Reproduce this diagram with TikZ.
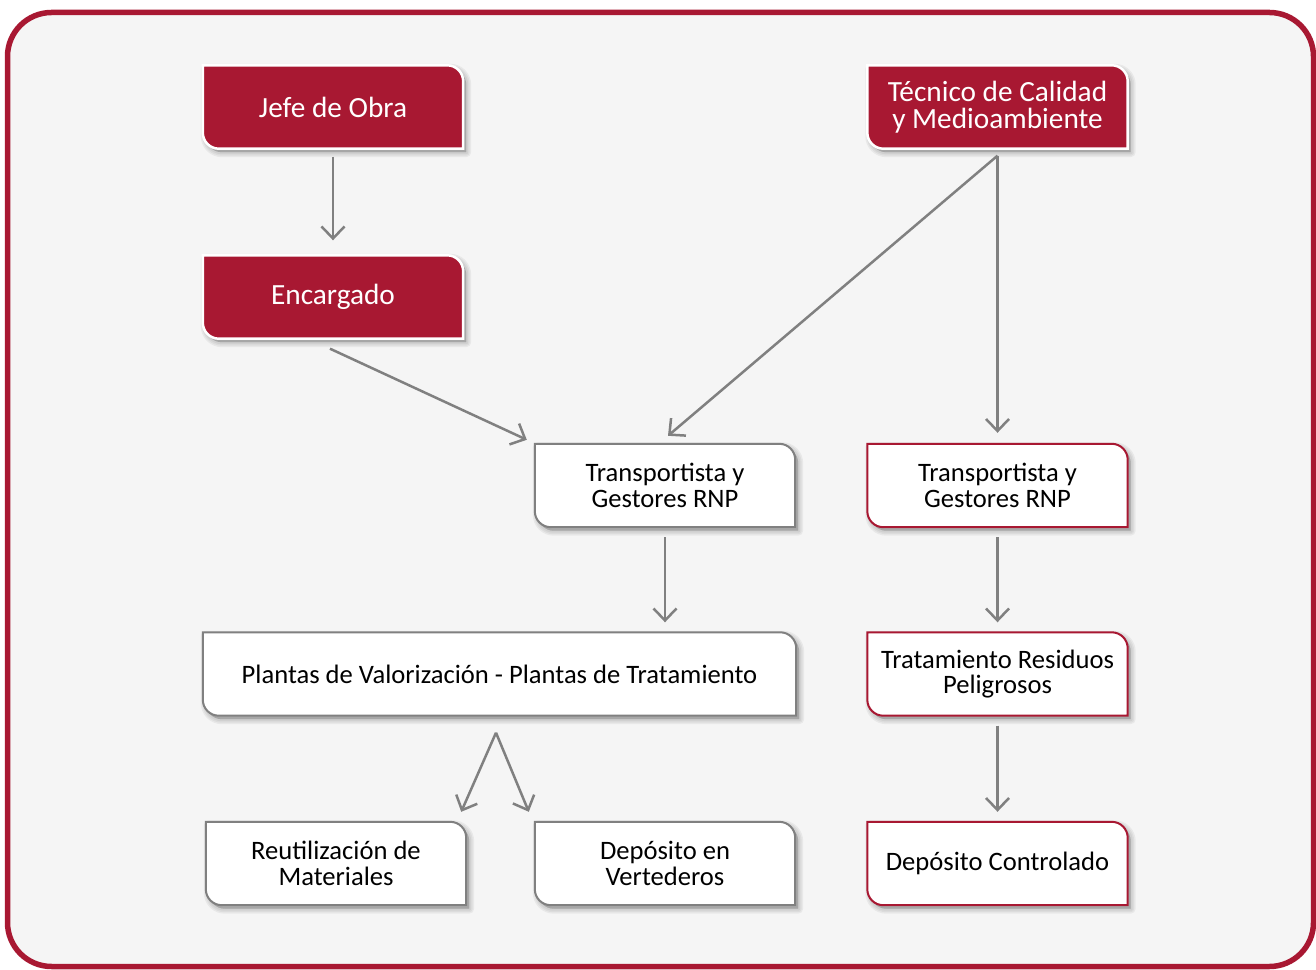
\documentclass[tikz,border=0pt]{standalone}
\usepackage{fontspec}
\setmainfont{Carlito}
\usetikzlibrary{arrows.meta}

\definecolor{crimson}{RGB}{168,24,50}
\definecolor{linegray}{RGB}{128,128,128}
\definecolor{panel}{RGB}{245,245,245}

\pgfdeclarelayer{back}
\pgfdeclarelayer{boxes}
\pgfsetlayers{back,boxes,main}

% box outline: sharp top-left and bottom-right, rounded top-right and bottom-left,
% optionally offset by (#3,#4)
\newcommand\boxrad{16}
\newcommand\cutshape[4]{%
  \path[#2] ([xshift=#3,yshift=#4]#1.north west)
    -- ([xshift=#3-\boxrad,yshift=#4]#1.north east)
    arc[start angle=90,end angle=0,radius=\boxrad]
    -- ([xshift=#3,yshift=#4]#1.south east)
    -- ([xshift=#3+\boxrad,yshift=#4]#1.south west)
    arc[start angle=270,end angle=180,radius=\boxrad] -- cycle;}
% soft drop shadow built from a few translucent layers, then the box itself
\newcommand\cutbox[2]{%
  \foreach \w in {10,7,4,0.1} {\cutshape{#1}{shadowpart, line width=\w pt}{3}{-3.5}}
  \cutshape{#1}{#2}{0}{0}}

\tikzset{
  boxtext/.style={minimum width=260pt, minimum height=83pt, inner sep=0pt, align=center},
  redtxt/.style={boxtext, text=white, font=\fontsize{29.3}{27}\selectfont},
  whtxt/.style={boxtext, text=black, font=\fontsize{26.6}{25.5}\selectfont},
  shadowpart/.style={draw=black, fill=black, draw opacity=0.05, fill opacity=0.05, line join=round},
  redbox/.style={fill=crimson, draw=white, line width=2.5pt},
  graybox/.style={fill=white, draw=linegray, line width=2pt},
  redline/.style={fill=white, draw=crimson, line width=2pt},
  conn/.style={draw=linegray, line width=2.5pt, -{Straight Barb[length=12pt, width=23pt]}},
}

\begin{document}
\begin{tikzpicture}[x=1pt,y=1pt]
\useasboundingbox (0,0) rectangle (1316,969);

\begin{pgfonlayer}{back}
  \fill[white] (0,0) rectangle (1316,969);
  \draw[crimson, line width=5.5pt, fill=panel, rounded corners=44pt] (7.5,2.5) rectangle (1313.5,956.5);
\end{pgfonlayer}

% left branch
\node[redtxt] (jefe) at (333,862) {Jefe de Obra};
\node[redtxt] (enc)  at (333,672) {Encargado};
\node[whtxt]  (trl)  at (665,483.5) {Transportista y\\Gestores RNP};
\node[whtxt, minimum width=593pt] (plan) at (499.5,295) {Plantas de Valorización - Plantas de Tratamiento};
\node[whtxt]  (reut) at (336,105.5) {Reutilización de\\Materiales};
\node[whtxt]  (depv) at (665,105.5) {Depósito en\\Vertederos};

% right branch
\node[redtxt] (tec)  at (997.5,862) {Técnico de Calidad\\y Medioambiente};
\node[whtxt]  (trr)  at (997.5,483.5) {Transportista y\\Gestores RNP};
\node[whtxt]  (trat) at (997.5,295) {Tratamiento Residuos\\Peligrosos};
\node[whtxt]  (depc) at (997.5,105.5) {Depósito Controlado};

\begin{pgfonlayer}{boxes}
  \foreach \n in {jefe,enc,tec} {\cutbox{\n}{redbox}}
  \foreach \n in {trl,plan,reut,depv} {\cutbox{\n}{graybox}}
  \foreach \n in {trr,trat,depc} {\cutbox{\n}{redline}}
\end{pgfonlayer}

% connectors
\draw[conn] ([yshift=-8]jefe.south) -- ([yshift=15]enc.north);
\draw[conn] ([xshift=-3,yshift=-10]enc.south) -- ([xshift=-8,yshift=4]trl.north west);
\draw[conn] ([yshift=-7]tec.south) -- ([xshift=3,yshift=8]trl.north);
\draw[conn] ([yshift=-7]tec.south) -- ([yshift=11]trr.north);
\draw[conn] ([yshift=-10]trl.south) -- ([yshift=10]trl.south |- plan.north);
\draw[conn] ([yshift=-10]trr.south) -- ([yshift=10]trat.north);
\draw[conn] ([yshift=-10]trat.south) -- ([yshift=10]depc.north);
\coordinate (fork) at ([xshift=-3.5,yshift=-17]plan.south);
\draw[conn] (fork) -- ([xshift=-5,yshift=10]reut.north east);
\draw[conn] (fork) -- ([xshift=-6,yshift=10]depv.north west);
\end{tikzpicture}
\end{document}
